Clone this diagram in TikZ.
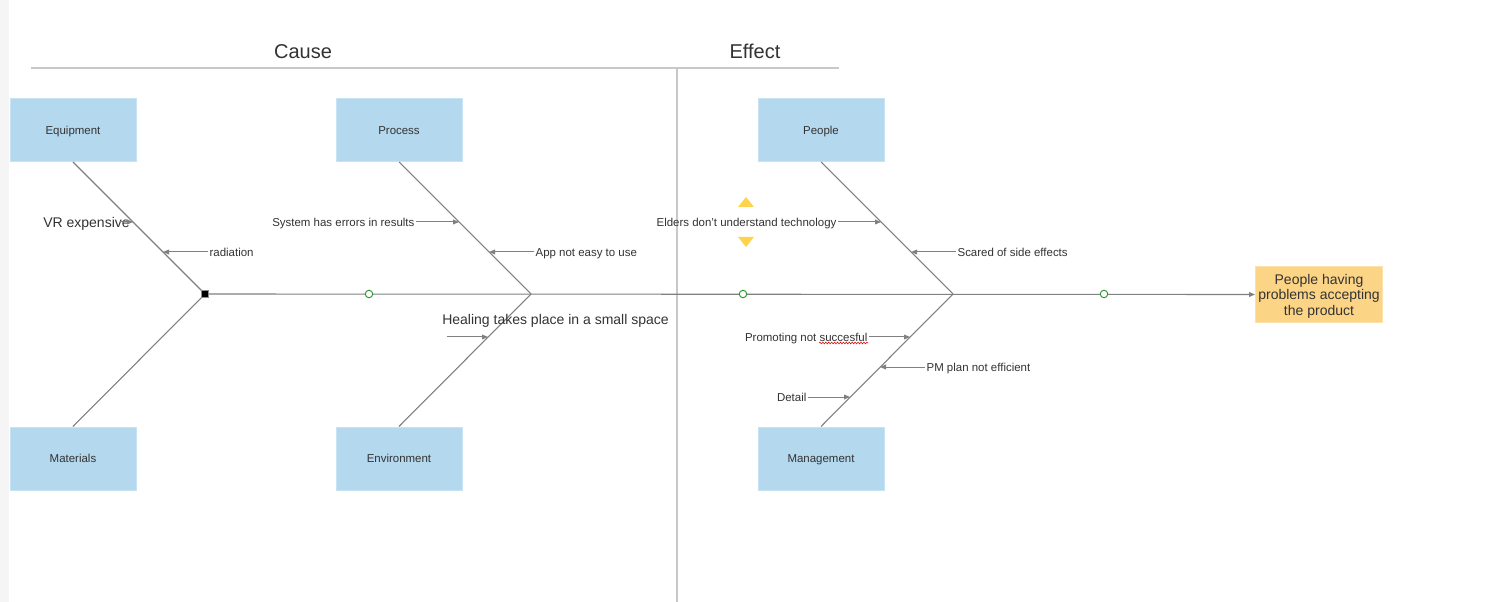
\documentclass[tikz,border=0pt]{standalone}
\usepackage{fontspec}
\setmainfont{Liberation Sans}
\usetikzlibrary{arrows.meta,decorations.pathmorphing}
\definecolor{boxblue}{RGB}{180,216,238}
\definecolor{boxblueedge}{RGB}{200,227,244}
\definecolor{boxorange}{RGB}{252,212,134}
\definecolor{boxorangeedge}{RGB}{253,225,170}
\definecolor{bone}{RGB}{128,128,128}
\definecolor{sep}{RGB}{200,200,200}
\definecolor{txt}{RGB}{51,51,51}
\definecolor{handle}{RGB}{255,212,77}
\definecolor{okgreen}{RGB}{40,150,40}
\begin{document}
\begin{tikzpicture}[x=0.75pt,y=-0.75pt,
  catbox/.style={fill=boxblue,draw=boxblueedge,line width=0.75pt,minimum width=126*0.75pt,minimum height=63*0.75pt,inner sep=0pt,text=txt,text height=6.2pt,text depth=0pt,font=\fontsize{8.6}{10}\selectfont},
  effbox/.style={fill=boxorange,draw=boxorangeedge,line width=0.75pt,minimum width=127*0.75pt,minimum height=56*0.75pt,inner sep=0pt,text=txt,font=\fontsize{10.5}{11.6}\selectfont},
  lbl/.style={inner sep=1pt,text=txt,text height=6.2pt,text depth=0pt,font=\fontsize{8.6}{10}\selectfont},
  biglbl/.style={inner sep=0pt,text=txt,text height=7.6pt,text depth=0pt,font=\fontsize{10.5}{12}\selectfont},
  head/.style={inner sep=0pt,text=txt,text height=10.8pt,text depth=0pt,font=\fontsize{15}{18}\selectfont},
  bonel/.style={draw=bone,line width=0.8pt},
  rib/.style={draw=bone,line width=0.75pt,-{Triangle[length=4.5pt,width=3.6pt]}},
  waypt/.style={circle,draw=okgreen,fill=white,line width=0.7pt,minimum size=7.5*0.75pt,inner sep=0pt}
]
\useasboundingbox (0,0) rectangle (1503,602);
\fill[white] (0,0) rectangle (1503,602);
\fill[black!4] (0,0) rectangle (9,602);

% header
\node[head] (cause) at (303,51) {Cause};
\node[head] (effect) at (755,51) {Effect};
\coordinate (hl) at (31,68);
\coordinate (hr) at (839,68);
\coordinate (vt) at (677,68);
\coordinate (vb) at (677,602);
\draw[sep,line width=0.8pt] (hl) -- (hr);
\draw[sep,line width=0.8pt] (vt) -- (vb);

% category boxes
\node[catbox] (equip) at (73,130) {Equipment};
\node[catbox] (proc) at (399,130) {Process};
\node[catbox] (people) at (821,130) {People};
\node[catbox] (mat) at (73,458.5) {Materials};
\node[catbox] (env) at (399,458.5) {Environment};
\node[catbox] (mgmt) at (821,458.5) {Management};

% effect box
\node[effbox] (effbox) at (1319,294.5) {\raisebox{-1.5pt}[\height][\depth]{\def\arraystretch{1}\begin{tabular}{@{}c@{}}People having\\problems accepting\\the product\end{tabular}}};

% joints
\coordinate (j1) at (205,294);
\coordinate (j2) at (531,294);
\coordinate (j3) at (953,294);

% spine
\draw[bonel,-{Triangle[length=4.5pt,width=3.6pt]}] (j1) -- (effbox.west);

% bones
\draw[bonel] (equip.south) -- (j1);
\draw[bonel] (mat.north) -- (j1);
\draw[bonel] (proc.south) -- (j2);
\draw[bonel] (env.north) -- (j2);
\draw[bonel] (people.south) -- (j3);
\draw[bonel] (mgmt.north) -- (j3);

% tail marker
\node[draw=black!45,fill=black,line width=0.6pt,minimum size=7*0.75pt,inner sep=0pt] (tail) at (j1) {};

% waypoints
\node[waypt] (w1) at (369,294) {};
\node[waypt] (w2) at (743,294) {};
\node[waypt] (w3) at (1104,294) {};

% ribs: Equipment
\node[biglbl] (vr) at (86.5,222) {VR expensive};
\coordinate (vrs) at (120,222);
\coordinate (vre) at (133,222);
\draw[rib] (vrs) -- (vre);
\node[lbl,anchor=west] (rad) at (208,252) {radiation};
\coordinate (rade) at (163,252);
\draw[rib] (rad.west) -- (rade);

% ribs: Process
\node[lbl,anchor=east] (sys) at (416,222) {System has errors in results};
\coordinate (syse) at (459,222);
\draw[rib] (sys.east) -- (syse);
\node[lbl,anchor=west] (app) at (534,252) {App not easy to use};
\coordinate (appe) at (489,252);
\draw[rib] (app.west) -- (appe);

% ribs: Environment
\node[biglbl] (heal) at (555.5,319) {Healing takes place in a small space};
\coordinate (heals) at (447,337);
\coordinate (heale) at (488,337);
\draw[rib] (heals) -- (heale);

% ribs: People
\node[lbl,anchor=east] (eld) at (838,222) {Elders don't understand technology};
\coordinate (elde) at (881,222);
\draw[rib] (eld.east) -- (elde);
\node[lbl,anchor=west] (scr) at (956,252) {Scared of side effects};
\coordinate (scre) at (911,252);
\draw[rib] (scr.west) -- (scre);

% ribs: Management
\node[lbl,anchor=east] (prom) at (869,337) {Promoting not succesful};
\coordinate (prome) at (910,337);
\draw[rib] (prom.east) -- (prome);
\node[lbl,anchor=west] (pm) at (925,367) {PM plan not efficient};
\coordinate (pme) at (880,367);
\draw[rib] (pm.west) -- (pme);
\node[lbl,anchor=east] (det) at (808,397) {Detail};
\coordinate (dete) at (850,397);
\draw[rib] (det.east) -- (dete);

% spell-check squiggle under "succesful"
\coordinate (sq1) at (819,343);
\coordinate (sq2) at (868,343);
\draw[red!85!black,line width=0.4pt,decorate,decoration={snake,amplitude=0.7,segment length=2.2}] (sq1) -- (sq2);

% yellow handles
\fill[handle] (738,207) -- (754,207) -- (746,197) -- cycle;
\fill[handle] (738,237) -- (754,237) -- (746,247) -- cycle;
\end{tikzpicture}
\end{document}
